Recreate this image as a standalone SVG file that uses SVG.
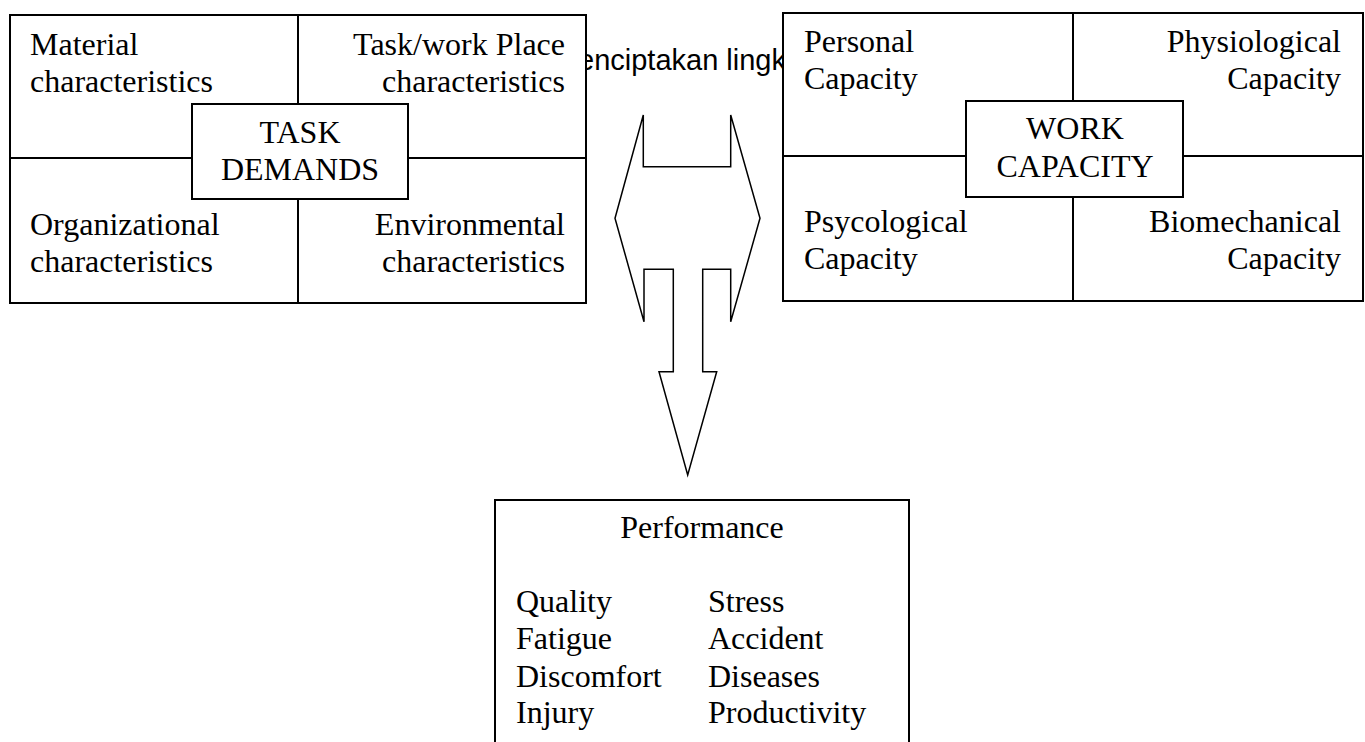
<svg xmlns="http://www.w3.org/2000/svg" width="1365" height="742" viewBox="0 0 1365 742">
  <style>
    .frame { fill: #fff; stroke: #000; stroke-width: 2; }
    .line { stroke: #000; stroke-width: 2; fill: none; }
    .t { font-family: "Liberation Serif", "Times New Roman", serif; font-size: 32px; fill: #000; }
    .r { text-anchor: end; }
    .c { text-anchor: middle; }
    .sans { font-family: "Liberation Sans", Arial, sans-serif; font-size: 29px; fill: #000; }
    .arrow { fill: #fff; stroke: #000; stroke-width: 1.5; stroke-linejoin: miter; }
  </style>

  <rect width="1365" height="742" fill="#fff"/>

  <!-- caption text sitting behind the two boxes -->
  <text class="sans" x="578" y="70">enciptakan lingk</text>

  <g id="task-demands">
    <rect class="frame" x="10" y="15" width="576" height="288"/>
    <line class="line" x1="298" y1="15" x2="298" y2="303"/>
    <line class="line" x1="10" y1="158" x2="586" y2="158"/>
    <rect class="frame" x="192" y="104" width="216" height="95"/>
    <text class="t" x="30" y="55">Material</text>
    <text class="t" x="30" y="92">characteristics</text>
    <text class="t r" x="565" y="55">Task/work Place</text>
    <text class="t r" x="565" y="92">characteristics</text>
    <text class="t c" x="300" y="143">TASK</text>
    <text class="t c" x="300" y="180">DEMANDS</text>
    <text class="t" x="30" y="235">Organizational</text>
    <text class="t" x="30" y="272">characteristics</text>
    <text class="t r" x="565" y="235">Environmental</text>
    <text class="t r" x="565" y="272">characteristics</text>
  </g>

  <g id="work-capacity">
    <rect class="frame" x="783" y="13" width="580" height="288"/>
    <line class="line" x1="1073" y1="13" x2="1073" y2="301"/>
    <line class="line" x1="783" y1="156" x2="1363" y2="156"/>
    <rect class="frame" x="966" y="101" width="217" height="96"/>
    <text class="t" x="804" y="52">Personal</text>
    <text class="t" x="804" y="89">Capacity</text>
    <text class="t r" x="1341" y="52">Physiological</text>
    <text class="t r" x="1341" y="89">Capacity</text>
    <text class="t c" x="1075" y="139">WORK</text>
    <text class="t c" x="1075" y="177">CAPACITY</text>
    <text class="t" x="804" y="232">Psycological</text>
    <text class="t" x="804" y="269">Capacity</text>
    <text class="t r" x="1341" y="232">Biomechanical</text>
    <text class="t r" x="1341" y="269">Capacity</text>
  </g>

  <g id="connectors">
    <!-- two-way block arrow with a downward branch -->
    <polygon class="arrow" points="643.3,115 643.3,166.7 730.7,166.7 730.7,115 760,218.3 730.7,321.7 730.7,269.3 702.7,269.3 702.7,371.7 716.7,371.7 687.7,475 659,371.7 673.3,371.7 673.3,269.3 644,269.3 644,321.7 615,218.3"/>
  </g>

  <g id="performance">
    <rect class="frame" x="495" y="500" width="414" height="260"/>
    <text class="t c" x="702" y="538">Performance</text>
    <text class="t" x="516" y="612">Quality</text>
    <text class="t" x="516" y="649">Fatigue</text>
    <text class="t" x="516" y="687">Discomfort</text>
    <text class="t" x="516" y="723">Injury</text>
    <text class="t" x="708" y="612">Stress</text>
    <text class="t" x="708" y="649">Accident</text>
    <text class="t" x="708" y="687">Diseases</text>
    <text class="t" x="708" y="723">Productivity</text>
  </g>
</svg>
